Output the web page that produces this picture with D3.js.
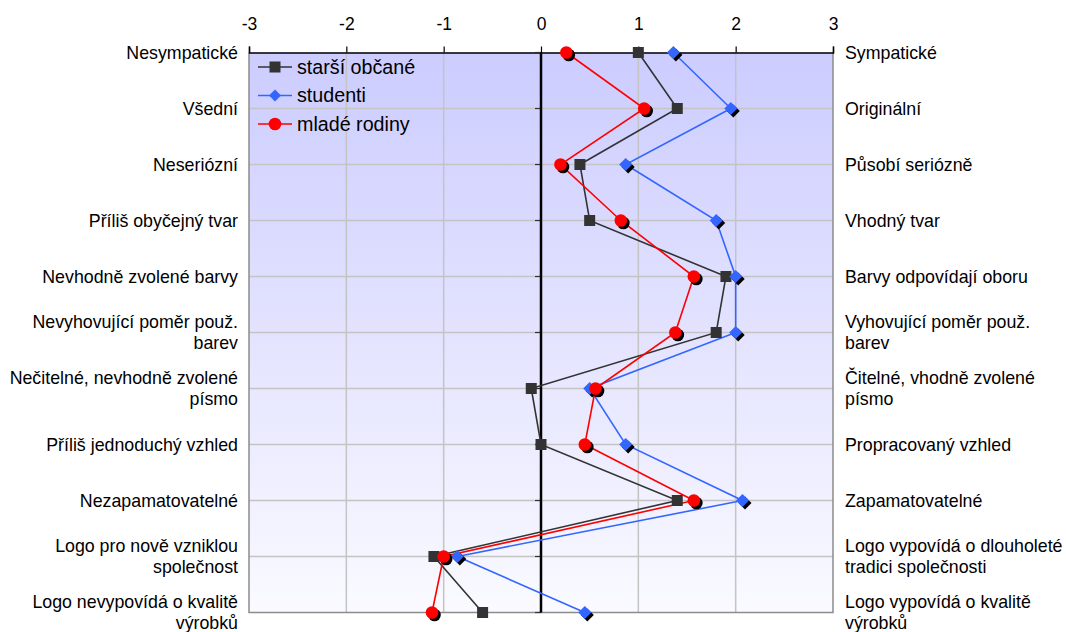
<!DOCTYPE html>
<html>
<head>
<meta charset="utf-8">
<script src="https://cdn.jsdelivr.net/npm/d3@7"></script>
<style>
html,body{margin:0;padding:0;background:#fff;}
svg{display:block;}
text{font-family:"Liberation Sans",Arial,sans-serif;fill:#000;}
</style>
</head>
<body>
<svg id="chart" width="1066" height="632"></svg>
<script>
// ---- data ----
const leftLabels = [
  "Nesympatické",
  "Všední",
  "Neseriózní",
  "Příliš obyčejný tvar",
  "Nevhodně zvolené barvy",
  "Nevyhovující poměr použ.\nbarev",
  "Nečitelné, nevhodně zvolené\npísmo",
  "Příliš jednoduchý vzhled",
  "Nezapamatovatelné",
  "Logo pro nově vzniklou\nspolečnost",
  "Logo nevypovídá o kvalitě\nvýrobků"
];
const rightLabels = [
  "Sympatické",
  "Originální",
  "Působí seriózně",
  "Vhodný tvar",
  "Barvy odpovídají oboru",
  "Vyhovující poměr použ.\nbarev",
  "Čitelné, vhodně zvolené\npísmo",
  "Propracovaný vzhled",
  "Zapamatovatelné",
  "Logo vypovídá o dlouholeté\ntradici společnosti",
  "Logo vypovídá o kvalitě\nvýrobků"
];
const seriesNames = ["starší občané", "studenti", "mladé rodiny"];
const starsiObcane = [1.0, 1.4, 0.4, 0.5, 1.9, 1.8, -0.1, 0.0, 1.4, -1.1, -0.6];
const studenti     = [1.36, 1.95, 0.87, 1.8, 2.0, 2.0, 0.5, 0.87, 2.07, -0.86, 0.45];
const mladeRodiny  = [0.26, 1.06, 0.2, 0.82, 1.57, 1.38, 0.56, 0.45, 1.57, -1.0, -1.12];
const xTicks = [-3, -2, -1, 0, 1, 2, 3];

// ---- layout ----
const svg = d3.select("#chart");
const L = 249, R = 833, T = 52.5, B = 612.5;
const x = d3.scaleLinear().domain([-3, 3]).range([L, R]);
const idx = d3.range(leftLabels.length);
const y = d3.scalePoint().domain(idx).range([T, B]);

// background gradient
const defs = svg.append("defs");
const grad = defs.append("linearGradient").attr("id", "bg").attr("x1", 0).attr("y1", 0).attr("x2", 0).attr("y2", 1);
grad.append("stop").attr("offset", "0%").attr("stop-color", "#ccccff");
grad.append("stop").attr("offset", "100%").attr("stop-color", "#fafaff");
svg.append("rect").attr("x", L).attr("y", T).attr("width", R - L).attr("height", B - T).attr("fill", "url(#bg)");

// gridlines
svg.append("g").selectAll("line").data(xTicks.filter(d => d !== 0 && Math.abs(d) !== 3)).join("line")
  .attr("x1", d => x(d)).attr("x2", d => x(d)).attr("y1", T).attr("y2", B)
  .attr("stroke", "#c4c4c4").attr("stroke-width", 1.5);
svg.append("g").selectAll("line").data(idx.slice(1, -1)).join("line")
  .attr("x1", L).attr("x2", R).attr("y1", d => y(d)).attr("y2", d => y(d))
  .attr("stroke", "#c4c4c4").attr("stroke-width", 1.5);

// border (left, right, bottom)
svg.append("path")
  .attr("d", `M${L},${T}V${B}H${R}V${T}`)
  .attr("fill", "none").attr("stroke", "#8c8c8c").attr("stroke-width", 1.5);

// top axis
const topAxis = svg.append("g").attr("transform", `translate(0,${T})`)
  .call(d3.axisTop(x).tickValues(xTicks).tickSize(6).tickPadding(17).tickFormat(d => String(d)));
topAxis.select(".domain").attr("stroke", "#000").attr("stroke-width", 1.5);
topAxis.selectAll(".tick line").attr("stroke", "#000").attr("stroke-width", 1.2);
topAxis.selectAll(".tick text").attr("font-size", "17.5px").attr("font-family", "Liberation Sans, Arial, sans-serif").attr("fill", "#000");

// zero axis with category ticks
svg.append("g").selectAll("line").data(idx).join("line")
  .attr("x1", x(0) - 6).attr("x2", x(0)).attr("y1", d => y(d)).attr("y2", d => y(d))
  .attr("stroke", "#333").attr("stroke-width", 1.2);
svg.append("line").attr("x1", x(0)).attr("x2", x(0)).attr("y1", T).attr("y2", B)
  .attr("stroke", "#000").attr("stroke-width", 2.5);

// category labels
function drawLabels(labels, xpos, anchor) {
  const g = svg.append("g");
  labels.forEach((lab, i) => {
    const lines = lab.split("\n");
    const lh = 21;
    const y0 = y(i) - (lines.length - 1) * lh / 2;
    const t = g.append("text").attr("text-anchor", anchor).attr("font-size", "17.8px");
    lines.forEach((ln, j) => {
      t.append("tspan").attr("x", xpos).attr("y", y0 + j * lh).attr("dy", "0.35em").text(ln);
    });
  });
}
drawLabels(leftLabels, 238, "end");
drawLabels(rightLabels, 845, "start");

// series
const series = [
  {name: seriesNames[0], values: starsiObcane, color: "#333333", shape: "square"},
  {name: seriesNames[1], values: studenti, color: "#3366ff", shape: "diamond"},
  {name: seriesNames[2], values: mladeRodiny, color: "#ff0000", shape: "circle"}
];
const line = d3.line().x(d => x(d.v)).y(d => y(d.i));

function drawMarker(g, cx, cy, s) {
  if (s.shape === "square") {
    g.append("rect").attr("x", cx - 5.5).attr("y", cy - 5.5).attr("width", 11).attr("height", 11).attr("fill", s.color);
  } else if (s.shape === "diamond") {
    const d = 6.5;
    const p = (ox, oy) => `M${cx + ox},${cy - d + oy}L${cx + d + ox},${cy + oy}L${cx + ox},${cy + d + oy}L${cx - d + ox},${cy + oy}Z`;
    g.append("path").attr("d", p(2.5, 2.5)).attr("fill", "#000");
    g.append("path").attr("d", p(0, 0)).attr("fill", s.color);
  } else {
    g.append("circle").attr("cx", cx + 2.5).attr("cy", cy + 2.5).attr("r", 6.3).attr("fill", "#000");
    g.append("circle").attr("cx", cx).attr("cy", cy).attr("r", 6.3).attr("fill", s.color);
  }
}

series.forEach(s => {
  const pts = s.values.map((v, i) => ({v, i}));
  svg.append("path").datum(pts).attr("d", line).attr("fill", "none")
    .attr("stroke", s.color).attr("stroke-width", 1.6);
});
series.forEach(s => {
  const g = svg.append("g");
  s.values.forEach((v, i) => drawMarker(g, x(v), y(i), s));
});

// legend
const legY = [67, 95.5, 124];
series.forEach((s, k) => {
  const g = svg.append("g");
  g.append("line").attr("x1", 258).attr("x2", 292).attr("y1", legY[k]).attr("y2", legY[k])
    .attr("stroke", s.color).attr("stroke-width", 1.6);
  if (s.shape === "square") {
    g.append("rect").attr("x", 275 - 5.5).attr("y", legY[k] - 5.5).attr("width", 11).attr("height", 11).attr("fill", s.color);
  } else if (s.shape === "diamond") {
    const d = 6, cx = 275, cy = legY[k];
    g.append("path").attr("d", `M${cx},${cy - d}L${cx + d},${cy}L${cx},${cy + d}L${cx - d},${cy}Z`).attr("fill", s.color);
  } else {
    g.append("circle").attr("cx", 275).attr("cy", legY[k]).attr("r", 6.3).attr("fill", s.color);
  }
  g.append("text").attr("x", 297).attr("y", legY[k]).attr("dy", "0.35em").attr("font-size", "19.7px").text(s.name);
});
</script>
</body>
</html>
